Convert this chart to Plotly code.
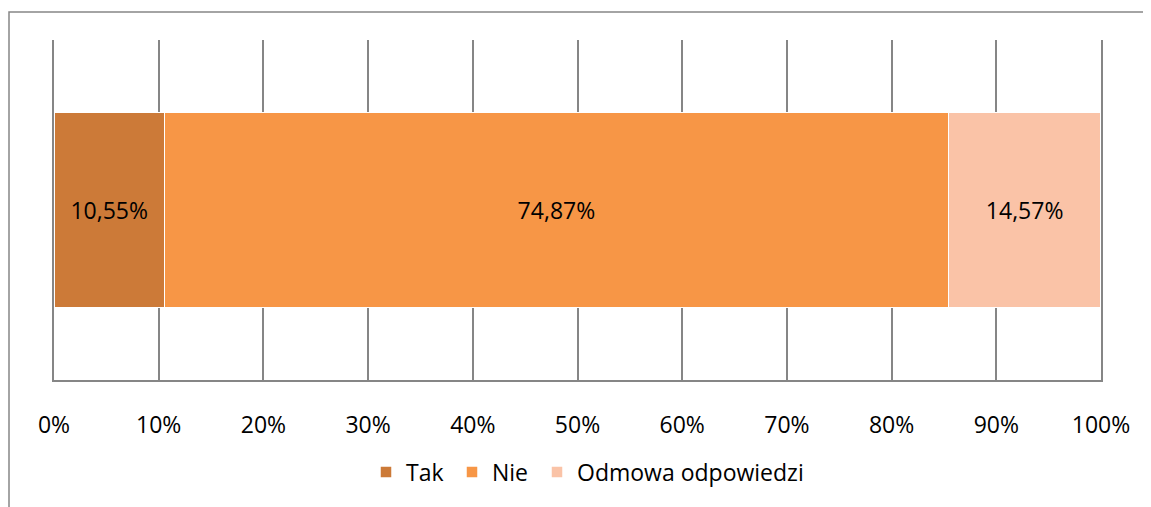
import plotly.graph_objects as go

categories = [""]
series_names = ["Tak", "Nie", "Odmowa odpowiedzi"]
series_values = [10.55, 74.87, 14.57]
series_colors = ["#CC7A38", "#F79646", "#FAC3A7"]
tick_values = [0, 10, 20, 30, 40, 50, 60, 70, 80, 90, 100]
tick_labels = [f"{t}%" for t in tick_values]

FONT = "Open Sans, Liberation Sans, sans-serif"
FS = 23
GRID = "#868686"

# page has an 8px body margin; figure sized to fit inside the window
W, H = 1143, 499
L, R, T, B = 46, 50, 32, 127
PW = W - L - R
PH = H - T - B

legend_ids = ["legend", "legend2", "legend3"]
legend_left_px = [358, 444, 529]  # figure pixel coords of each legend box

fig = go.Figure()
for name, val, col, lid in zip(series_names, series_values, series_colors, legend_ids):
    fig.add_trace(go.Bar(
        y=categories, x=[val], name=name, orientation="h",
        marker=dict(color=col, line=dict(color="white", width=1.5)),
        text=[f"{val:.2f}%".replace(".", ",")],
        textposition="inside", insidetextanchor="middle",
        textfont=dict(color="black", size=FS, family=FONT),
        width=0.574, legend=lid,
    ))

legend_layout = {}
for lid, lx in zip(legend_ids, legend_left_px):
    legend_layout[lid] = dict(orientation="h", x=(lx - L) / PW, xanchor="left",
                              y=(372 - 464) / PH, yanchor="middle",
                              font=dict(size=FS), bgcolor="rgba(0,0,0,0)")

fig.update_layout(
    barmode="stack",
    width=W, height=H,
    margin=dict(l=L, r=R, t=T, b=B),
    plot_bgcolor="white", paper_bgcolor="white",
    font=dict(family=FONT, size=FS, color="black"),
    showlegend=True,
    xaxis=dict(range=[0, 100], tickvals=tick_values, ticktext=tick_labels,
               showgrid=True, gridcolor=GRID, gridwidth=1.5,
               showline=True, linecolor=GRID, linewidth=1.5,
               zeroline=False, ticks="", ticklabelstandoff=24, fixedrange=True,
               tickfont=dict(size=FS)),
    yaxis=dict(range=[-0.5, 0.5], showticklabels=False, showgrid=False,
               zeroline=False, showline=True, mirror=True, linecolor=GRID,
               linewidth=1.5, fixedrange=True),
    uniformtext=dict(mode=False),
    shapes=[dict(type="rect", xref="paper", yref="paper",
                 x0=(1 - L) / PW, x1=1.3, y0=-0.6, y1=(372 - 4) / PH,
                 line=dict(color=GRID, width=1.5), fillcolor="rgba(0,0,0,0)",
                 layer="above")],
    **legend_layout,
)

fig.write_html("out.html")
